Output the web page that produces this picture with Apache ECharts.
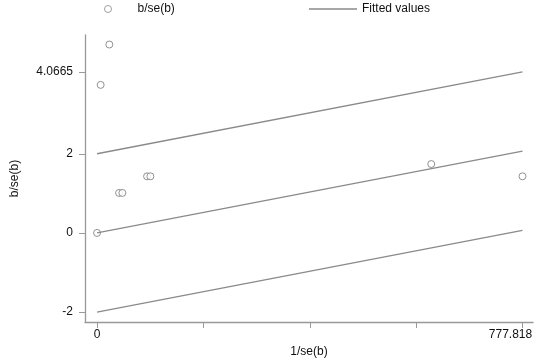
<!DOCTYPE html>
<html>
<head>
<meta charset="utf-8">
<script src="https://cdn.jsdelivr.net/npm/echarts@6/dist/echarts.min.js"></script>
<style>
  html, body { margin: 0; padding: 0; background: #fff; }
  #chart { width: 536px; height: 358px; }
</style>
</head>
<body>
<div id="chart"></div>
<script>
// points: 1/se(b) and b/se(b)
var precision = [0, 6.6, 22.5, 40.3, 46.3, 91.5, 97.5, 611, 777.818];
var zScore = [0, 3.74, 4.76, 1.01, 1.01, 1.43, 1.43, 1.74, 1.43];

// fitted line and the +/-2 bands, end points only
var fitX = [0, 777.818];
var fitMid = [0, 2.0665];
var fitUpper = [2, 4.0665];
var fitLower = [-2, 0.0665];

var xTicks = [0, 194.4545, 388.909, 583.3635, 777.818];
var xLabels = [0, 777.818];
var yTicks = [-2, 0, 2, 4.0665];

var font = 'Liberation Sans';
var grey = '#8a8a8a';

function pairs(xs, ys) {
  return xs.map(function (x, i) { return [x, ys[i]]; });
}

function fitSeries(ys, name) {
  return {
    name: name,
    type: 'line',
    data: pairs(fitX, ys),
    symbol: 'none',
    silent: true,
    lineStyle: { color: grey, width: 1.3 },
    itemStyle: { color: grey }
  };
}

var chart = echarts.init(document.getElementById('chart'));
chart.setOption({
  animation: false,
  backgroundColor: '#fff',
  textStyle: { fontFamily: font },
  grid: { left: 85, right: 3, top: 35, bottom: 36, outerBoundsMode: 'none', containLabel: false },
  legend: [
    {
      data: [{ name: 'b/se(b)', icon: 'circle',
               itemStyle: { color: '#fff', borderColor: '#888', borderWidth: 1 } }],
      left: 104, top: 3, padding: 0,
      itemWidth: 7, itemHeight: 7,
      textStyle: { fontFamily: font, fontSize: 12, color: '#111', padding: [0, 0, 0, 21] }
    },
    {
      data: [{ name: 'Fitted values', icon: 'rect', itemStyle: { color: grey } }],
      left: 309, top: 3, padding: 0,
      itemWidth: 48, itemHeight: 1.3,
      textStyle: { fontFamily: font, fontSize: 12, color: '#111' }
    }
  ],
  xAxis: {
    type: 'value',
    min: -22, max: 797,
    name: '1/se(b)',
    nameLocation: 'middle',
    nameGap: 20,
    nameTextStyle: { fontFamily: font, fontSize: 12, color: '#111' },
    axisLine: { onZero: false, lineStyle: { color: '#999', width: 1.3 } },
    axisTick: { show: true, length: 6, customValues: xTicks, lineStyle: { color: '#999' } },
    axisLabel: {
      customValues: xLabels, margin: 7, fontFamily: font, fontSize: 12, color: '#111',
      // last label is pushed left so it stays inside the picture
      formatter: function (v) { return v === xLabels[xLabels.length - 1] ? '{r|' + v + '}' : String(v); },
      rich: { r: { fontFamily: font, fontSize: 12, color: '#111', padding: [0, 24, 0, 0] } }
    },
    splitLine: { show: false }
  },
  yAxis: {
    type: 'value',
    min: -2.25, max: 5.0,
    name: 'b/se(b)',
    nameLocation: 'middle',
    nameGap: 64,
    nameTextStyle: { fontFamily: font, fontSize: 12, color: '#111' },
    axisLine: { show: true, onZero: false, lineStyle: { color: '#999', width: 1.3 } },
    axisTick: { show: true, length: 6, customValues: yTicks, lineStyle: { color: '#999' } },
    axisLabel: { customValues: yTicks, margin: 12, fontFamily: font, fontSize: 12, color: '#111' },
    splitLine: { show: false }
  },
  series: [
    {
      name: 'b/se(b)',
      type: 'scatter',
      data: pairs(precision, zScore),
      symbol: 'circle',
      symbolSize: 7,
      itemStyle: { color: '#fff', borderColor: '#777', borderWidth: 1 }
    },
    fitSeries(fitUpper, 'Fitted values'),
    fitSeries(fitMid, 'Fitted values'),
    fitSeries(fitLower, 'Fitted values')
  ]
});
</script>
</body>
</html>
